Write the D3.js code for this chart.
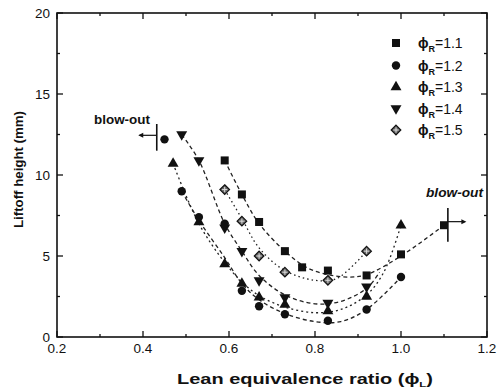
<!DOCTYPE html>
<html lang="en">
<head>
<meta charset="UTF-8">
<title>Liftoff height</title>
<script src="https://cdn.jsdelivr.net/npm/d3@7"></script>
<style>
    body { margin: 0; background: white; }
    text { font-family: "Liberation Sans", Arial, sans-serif; fill: #111; }
</style>
</head>
<body>
<script>

    // series: [phi_L, liftoff height mm]
    var phiR = ["1.1", "1.2", "1.3", "1.4", "1.5"]

    var pts11 = [[0.59, 10.9], [0.63, 8.8], [0.67, 7.1], [0.73, 5.3], [0.77, 4.3], [0.83, 4.1], [0.92, 3.8], [1.0, 5.1], [1.1, 6.9]]
    var pts12 = [[0.45, 12.2], [0.49, 9.0], [0.53, 7.4], [0.59, 7.0], [0.63, 2.85], [0.67, 1.9], [0.73, 1.4], [0.83, 1.0], [0.92, 1.7], [1.0, 3.7]]
    var pts13 = [[0.47, 10.7], [0.53, 7.1], [0.59, 4.5], [0.63, 3.3], [0.67, 2.45], [0.73, 2.0], [0.83, 1.6], [0.92, 2.5], [1.0, 6.9]]
    var pts14 = [[0.49, 12.5], [0.53, 10.9], [0.59, 6.75], [0.63, 5.3], [0.67, 3.5], [0.73, 2.45], [0.83, 2.1], [0.92, 3.1]]
    var pts15 = [[0.59, 9.1], [0.63, 7.15], [0.67, 5.0], [0.73, 4.0], [0.83, 3.5], [0.92, 5.3]]

    // fitted curves
    var fit11 = [[0.59, 10.9], [0.63, 8.8], [0.67, 7.0], [0.73, 5.3], [0.78, 4.3], [0.83, 3.85], [0.88, 3.7], [0.92, 3.85], [1.0, 5.0], [1.1, 6.9]]
    var fit12 = [[0.49, 9.0], [0.53, 7.2], [0.59, 4.9], [0.63, 3.3], [0.67, 2.3], [0.73, 1.45], [0.8, 0.95], [0.86, 0.95], [0.92, 1.7], [1.0, 3.7]]
    var fit13 = [[0.47, 10.7], [0.53, 7.0], [0.59, 4.6], [0.63, 3.4], [0.67, 2.55], [0.73, 1.85], [0.8, 1.5], [0.86, 1.7], [0.92, 2.6], [0.96, 4.0], [1.0, 6.9]]
    var fit14 = [[0.49, 12.5], [0.53, 10.9], [0.59, 7.0], [0.63, 5.3], [0.67, 3.8], [0.73, 2.6], [0.8, 2.05], [0.86, 2.2], [0.92, 3.0], [0.95, 4.0]]
    var fit15 = [[0.59, 9.1], [0.63, 7.3], [0.67, 5.5], [0.73, 4.1], [0.8, 3.5], [0.85, 3.6], [0.92, 5.3]]

    var xTicks = [0.2, 0.4, 0.6, 0.8, 1.0, 1.2]
    var yTicks = [0, 5, 10, 15, 20]

    var width = 504, height = 391
    var margin = {top: 13, right: 17, bottom: 54, left: 57}

    var svg = d3.select("body").append("svg")
        .attr("width", width)
        .attr("height", height)

    var xScale = d3.scaleLinear().domain([0.2, 1.2]).range([margin.left, width - margin.right])
    var yScale = d3.scaleLinear().domain([0, 20]).range([height - margin.bottom, margin.top])

    var x0 = xScale(0.2), x1 = xScale(1.2), y0 = yScale(0), y1 = yScale(20)

    // ticks, pointing inward on all four sides
    var minorX = d3.range(0.2, 1.2001, 0.1)
    minorX.forEach(function (v) {
        var major = xTicks.some(function (t) { return Math.abs(t - v) < 1e-6 })
        var len = major ? 6 : 3
        svg.append("line").attr("x1", xScale(v)).attr("x2", xScale(v))
            .attr("y1", y0).attr("y2", y0 - len).attr("stroke", "#111").attr("stroke-width", 1.3)
        svg.append("line").attr("x1", xScale(v)).attr("x2", xScale(v))
            .attr("y1", y1).attr("y2", y1 + len).attr("stroke", "#111").attr("stroke-width", 1.3)
    })
    d3.range(0, 20.001, 2.5).forEach(function (v) {
        var len = (v % 5 === 0) ? 6 : 3
        svg.append("line").attr("x1", x0).attr("x2", x0 + len)
            .attr("y1", yScale(v)).attr("y2", yScale(v)).attr("stroke", "#111").attr("stroke-width", 1.3)
        svg.append("line").attr("x1", x1).attr("x2", x1 - len)
            .attr("y1", yScale(v)).attr("y2", yScale(v)).attr("stroke", "#111").attr("stroke-width", 1.3)
    })

    svg.append("rect")
        .attr("x", x0).attr("y", y1)
        .attr("width", x1 - x0).attr("height", y0 - y1)
        .attr("fill", "none").attr("stroke", "#111").attr("stroke-width", 1.6)

    // tick labels
    svg.selectAll(".xt").data(xTicks).enter().append("text")
        .attr("x", function (d) { return xScale(d) })
        .attr("y", y0 + 16)
        .attr("text-anchor", "middle")
        .attr("font-size", "13.5px")
        .text(function (d) { return d.toFixed(1) })

    svg.selectAll(".yt").data(yTicks).enter().append("text")
        .attr("x", x0 - 7)
        .attr("y", function (d) { return yScale(d) + 5 })
        .attr("text-anchor", "end")
        .attr("font-size", "13.5px")
        .text(function (d) { return d })

    // axis titles
    var xt = svg.append("text")
        .attr("x", 177).attr("y", 384)
        .attr("font-size", "14px")
        .attr("font-weight", "bold")
        .attr("textLength", 256)
        .attr("lengthAdjust", "spacingAndGlyphs")
    xt.append("tspan").text("Lean equivalence ratio (")
    xt.append("tspan").text("\u03D5")
    xt.append("tspan").attr("font-size", "8px").attr("dy", 3).text("L")
    xt.append("tspan").attr("dy", -3).text(")")

    svg.append("text")
        .attr("transform", "translate(23," + 228 + ") rotate(-90)")
        .attr("font-size", "13.5px")
        .attr("font-weight", "bold")
        .attr("textLength", 117)
        .attr("lengthAdjust", "spacingAndGlyphs")
        .text("Liftoff height (mm)")

    // fit curves
    var line = d3.line()
        .x(function (d) { return xScale(d[0]) })
        .y(function (d) { return yScale(d[1]) })
        .curve(d3.curveCatmullRom.alpha(0.5))

    var fits = [fit11, fit12, fit13, fit14, fit15]
    var dashes = ["4,3", "4,3", "2,3", "4,3", "1.5,3"]
    fits.forEach(function (f, i) {
        svg.append("path")
            .datum(f)
            .attr("fill", "none")
            .attr("stroke", "#222")
            .attr("stroke-width", 1.3)
            .attr("stroke-dasharray", dashes[i])
            .attr("d", line)
    })

    // markers
    function marker(g, i) {
        if (i === 0) {
            g.append("rect").attr("x", -4).attr("y", -4).attr("width", 8).attr("height", 8).attr("fill", "#111")
        } else if (i === 1) {
            g.append("circle").attr("r", 4.2).attr("fill", "#111")
        } else if (i === 2) {
            g.append("path").attr("d", d3.symbol(d3.symbolTriangle, 52)()).attr("fill", "#111")
        } else if (i === 3) {
            g.append("path").attr("d", d3.symbol(d3.symbolTriangle, 52)())
                .attr("transform", "rotate(180)").attr("fill", "#111")
        } else {
            g.append("path").attr("d", "M0,-4.8L4.8,0L0,4.8L-4.8,0Z")
                .attr("fill", "#666").attr("stroke", "#111").attr("stroke-width", 1.2)
            g.append("path").attr("d", "M-2.6,0H2.6M0,-2.6V2.6").attr("stroke", "#ddd").attr("stroke-width", 1)
        }
    }

    var series = [pts11, pts12, pts13, pts14, pts15]
    // draw in this order so the overlaps look like the figure
    var order = [4, 0, 3, 2, 1]
    order.forEach(function (i) {
        series[i].forEach(function (p) {
            var g = svg.append("g").attr("transform", "translate(" + xScale(p[0]) + "," + yScale(p[1]) + ")")
            marker(g, i)
        })
    })

    // legend
    var legendY = [43, 65.5, 87, 108.5, 130]
    phiR.forEach(function (r, i) {
        var g = svg.append("g").attr("transform", "translate(396," + legendY[i] + ")")
        marker(g, i)
        var t = svg.append("text")
            .attr("x", 418).attr("y", legendY[i] + 5)
            .attr("font-size", "14px")
        t.append("tspan").attr("font-weight", "bold").text("\u03D5")
        t.append("tspan").attr("font-size", "9px").attr("dy", 4).attr("font-weight", "bold").text("R")
        t.append("tspan").attr("dy", -4).text("=" + r)
    })

    // blow-out marks
    svg.append("line").attr("x1", xScale(0.432)).attr("x2", xScale(0.432))
        .attr("y1", yScale(13.15)).attr("y2", yScale(11.5)).attr("stroke", "#111").attr("stroke-width", 1.6)
    svg.append("line").attr("x1", xScale(0.432)).attr("x2", xScale(0.392))
        .attr("y1", yScale(12.45)).attr("y2", yScale(12.45)).attr("stroke", "#111").attr("stroke-width", 1.2)
    svg.append("path")
        .attr("d", "M" + xScale(0.389) + "," + yScale(12.45) + "l5,-2.5v5z").attr("fill", "#111")
    svg.append("text").attr("x", 94).attr("y", 124)
        .attr("font-size", "12px").attr("font-weight", "bold")
        .attr("textLength", 56).attr("lengthAdjust", "spacingAndGlyphs")
        .text("blow-out")

    svg.append("line").attr("x1", xScale(1.109)).attr("x2", xScale(1.109))
        .attr("y1", yScale(7.96)).attr("y2", yScale(5.88)).attr("stroke", "#111").attr("stroke-width", 1.6)
    svg.append("line").attr("x1", xScale(1.109)).attr("x2", xScale(1.148))
        .attr("y1", yScale(7.12)).attr("y2", yScale(7.12)).attr("stroke", "#111").attr("stroke-width", 1.2)
    svg.append("path")
        .attr("d", "M" + xScale(1.152) + "," + yScale(7.12) + "l-5,-2.5v5z").attr("fill", "#111")
    svg.append("text").attr("x", 426).attr("y", 197)
        .attr("font-size", "12px").attr("font-weight", "bold").attr("font-style", "italic")
        .attr("textLength", 57).attr("lengthAdjust", "spacingAndGlyphs")
        .text("blow-out")

</script>
</body>
</html>
